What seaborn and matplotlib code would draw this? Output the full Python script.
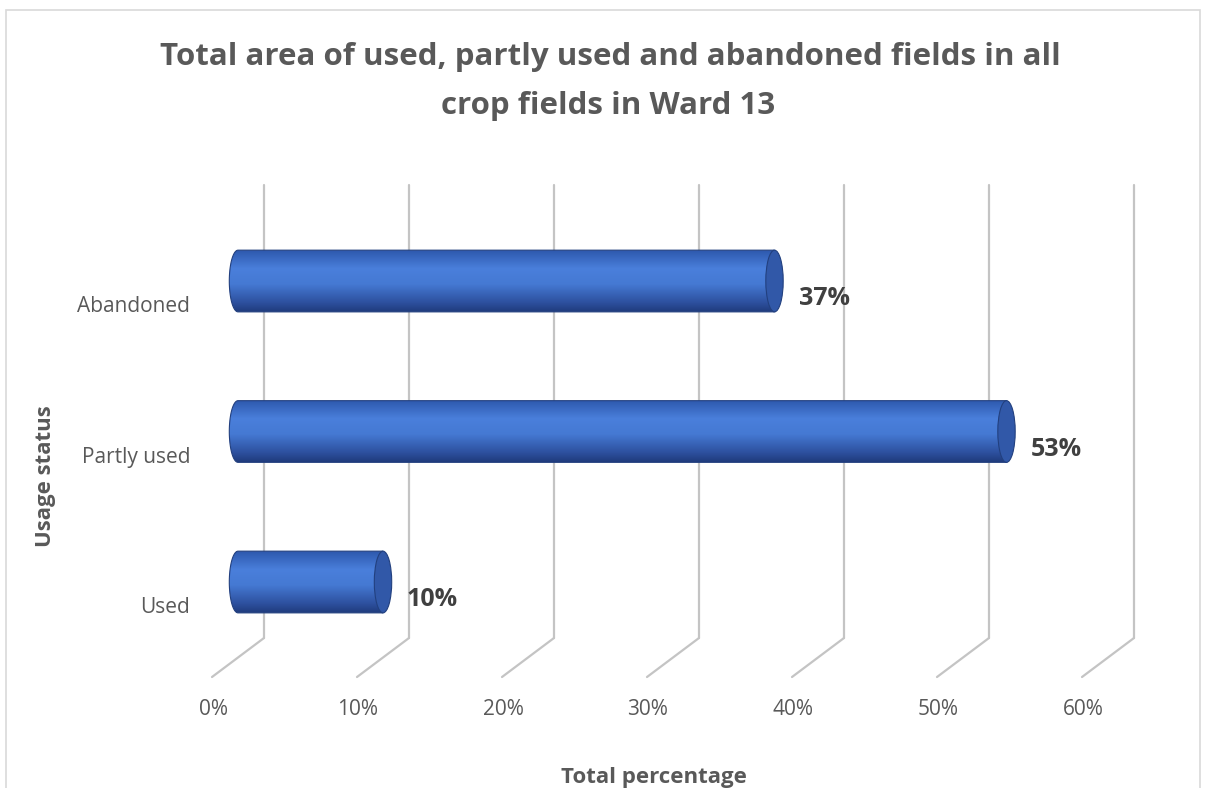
import numpy as np
import pandas as pd
import seaborn as sns
import matplotlib.pyplot as plt
from matplotlib.path import Path
from matplotlib.patches import Ellipse, Rectangle, PathPatch
from matplotlib.transforms import ScaledTranslation
from matplotlib.colors import LinearSegmentedColormap

# data
categories = ["Abandoned", "Partly used", "Used"]
percentages = [37, 53, 10]
x_ticks = [0, 10, 20, 30, 40, 50, 60]
x_tick_labels = ["0%", "10%", "20%", "30%", "40%", "50%", "60%"]

sns.set_theme(style="white")
plt.rcParams['font.family'] = ['Open Sans', 'DejaVu Sans']

df = pd.DataFrame({"status": categories, "pct": percentages})

W, H = 1205, 788
fig = plt.figure(figsize=(W / 100, H / 100), dpi=100)
# x -1..60 -> 223.5..1108 px (0 at 238), y area 185..638 px
ax = fig.add_axes([223.5 / W, 1 - 638 / H, 884.5 / W, 453 / H])

sns.barplot(data=df, x="pct", y="status", order=categories, orient="h",
            color="#4472c4", width=0.41, ax=ax, zorder=3)

XLIM = (-1, 60)
YLIM = (2.372, -0.638)
ax.set_xlim(*XLIM)
ax.set_ylim(*YLIM)
for s in ax.spines.values():
    s.set_visible(False)
ax.set_xticks([])
ax.set_yticks([])
ax.set_xlabel("")
ax.set_ylabel("")

def px(dx, dy=0):
    return ScaledTranslation(dx / fig.dpi, dy / fig.dpi, fig.dpi_scale_trans)

# 3D-ish gridlines: back wall verticals + floor diagonals
grid_col = "#c4c4c4"
back = ax.get_xaxis_transform() + px(26)
for v in x_ticks:
    ax.plot([v, v], [0, 1], transform=back, color=grid_col, lw=1.6,
            clip_on=False, zorder=1)
    ax.annotate("", xy=(v, 0), xycoords=back, xytext=(-52, -39),
                textcoords="offset pixels",
                arrowprops=dict(arrowstyle="-", color=grid_col, lw=1.6,
                                shrinkA=0, shrinkB=0), zorder=1)

for v, lab in zip(x_ticks, x_tick_labels):
    ax.annotate(lab, xy=(v, 0), xycoords=ax.get_xaxis_transform(),
                xytext=(-25, -77), textcoords="offset pixels",
                ha="center", va="baseline", fontsize=15, color="#595959")

for i, cat in enumerate(categories):
    ax.annotate(cat, xy=(0, i), xycoords="data",
                xytext=(-48, -31), textcoords="offset pixels",
                ha="right", va="baseline", fontsize=15, color="#595959")

# cylinder look for each bar
cmap = LinearSegmentedColormap.from_list(
    "cyl", [(0, "#2d58ad"), (0.3, "#4a7fdb"), (0.55, "#4579d3"),
            (0.85, "#2d509e"), (1, "#1f3b7c")])
grad = np.linspace(0, 1, 256).reshape(-1, 1)
rx = 0.6
t = np.linspace(np.pi / 2, 3 * np.pi / 2, 40)
for p, val in zip(ax.patches, percentages):
    x0, w = p.get_x(), p.get_width()
    y0, h = p.get_y(), p.get_height()
    x1 = x0 + w
    yc = y0 + h / 2
    p.set_visible(False)
    # rounded left end, straight top/bottom, right end covered by cap
    arc = [(x0 + rx * np.cos(a), yc - (h / 2) * np.sin(a)) for a in t]
    verts = [(x1, y0)] + arc + [(x1, y0 + h), (x1, y0)]
    body = PathPatch(Path(verts, closed=True), facecolor="none",
                     edgecolor="#23407f", lw=0.8, zorder=4)
    ax.add_patch(body)
    im = ax.imshow(grad, cmap=cmap, aspect="auto", origin="upper",
                   extent=(x0 - rx, x1, y0 + h, y0), zorder=3)
    im.set_clip_path(body)
    ax.add_patch(Ellipse((x1, yc), width=2 * rx, height=h,
                         facecolor="#3158a8", edgecolor="#22407f",
                         lw=0.8, zorder=5))
    ax.annotate(f"{val}%", xy=(x1, yc), xycoords="data",
                xytext=(24, -24), textcoords="offset pixels",
                ha="left", va="baseline", fontsize=18, fontweight="bold",
                color="#404040", zorder=6)

ax.set_xlim(*XLIM)
ax.set_ylim(*YLIM)

# titles
fig.text(610 / W, 1 - 65 / H,
         "Total area of used, partly used and abandoned fields in all",
         ha="center", va="baseline", fontsize=22.5, fontweight="bold",
         color="#595959")
fig.text(608 / W, 1 - 114 / H, "crop fields in Ward 13",
         ha="center", va="baseline", fontsize=22.5, fontweight="bold",
         color="#595959")
fig.text(654 / W, 1 - 783 / H, "Total percentage", ha="center",
         va="baseline", fontsize=16, fontweight="bold", color="#595959")
fig.text(45 / W, 1 - 476 / H, "Usage status", ha="center", va="center",
         rotation=90, fontsize=16, fontweight="bold", color="#595959")

# chart border
fig.patches.append(Rectangle((6 / W, -0.05), 1194 / W, 1.05 - 10 / H,
                             transform=fig.transFigure, fill=False,
                             edgecolor="#d9d9d9", lw=1.2))

fig.savefig("out.png", dpi=100)
